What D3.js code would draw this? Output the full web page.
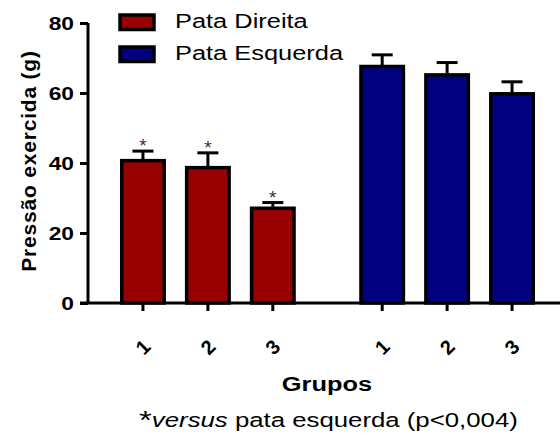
<!DOCTYPE html>
<html>
<head>
<meta charset="utf-8">
<script src="https://cdn.jsdelivr.net/npm/d3@7"></script>
<style>
  html, body { margin: 0; padding: 0; background: #fff; }
  svg { display: block; font-family: Arial, "Liberation Sans", sans-serif; }
</style>
</head>
<body>
<svg id="chart" width="560" height="437"></svg>
<script>
// Grouped bar chart: paw pressure per group, right vs left paw (mean ± SEM)
const sides = ["Pata Direita", "Pata Esquerda"];
const groups = ["1", "2", "3"];
const rightMeans = [41.1, 39.1, 27.5];
const rightSem = [2.3, 3.8, 1.2];
const leftMeans = [68.0, 65.6, 60.2];
const leftSem = [2.9, 3.1, 3.0];
const significant = [true, true, true]; // right paw, * versus left paw
const yTicks = [0, 20, 40, 60, 80];
const sideColors = ["#990000", "#000080"];

const svg = d3.select("#chart");
const axisX = 88, baseY = 303, topY = 23;
const WIDE = 1.27; // horizontal stretch applied to the wide label lettering

const y = d3.scaleLinear().domain([0, 80]).range([baseY, topY]);
const xSide = d3.scaleBand().domain(sides).range([110.5, 544.5])
  .paddingInner(44.5 / 239.5).paddingOuter(0);
const xGroup = d3.scaleBand().domain(groups).range([0, xSide.bandwidth()])
  .paddingInner(0.3).paddingOuter(0.15);

const series = [
  { side: sides[0], means: rightMeans, sem: rightSem, color: sideColors[0], stars: significant },
  { side: sides[1], means: leftMeans, sem: leftSem, color: sideColors[1], stars: [false, false, false] }
];

const rows = series.flatMap(s => groups.map((g, i) => ({
  side: s.side, group: g, mean: s.means[i], sem: s.sem[i], color: s.color, star: s.stars[i]
})));

const cx = d => xSide(d.side) + xGroup(d.group) + xGroup.bandwidth() / 2;

// places a text element at (x, y) with the widened lettering
function wideText(sel, x, yPos, rot) {
  return sel.attr("x", 0).attr("y", 0)
    .attr("transform", `translate(${x},${yPos})` + (rot ? ` rotate(${rot})` : "") + ` scale(${WIDE},1)`);
}

// error bars (drawn first so the bar outline covers the stem base)
const eb = svg.append("g").attr("stroke", "#000").attr("stroke-width", 3);
eb.selectAll("line.stem").data(rows).join("line")
  .attr("x1", cx).attr("x2", cx)
  .attr("y1", d => y(d.mean)).attr("y2", d => y(d.mean + d.sem));
eb.selectAll("line.cap").data(rows).join("line")
  .attr("x1", d => cx(d) - 10.5).attr("x2", d => cx(d) + 10.5)
  .attr("y1", d => y(d.mean + d.sem)).attr("y2", d => y(d.mean + d.sem));

// bars
svg.append("g").selectAll("rect").data(rows).join("rect")
  .attr("x", d => cx(d) - xGroup.bandwidth() / 2 + 1.5)
  .attr("width", xGroup.bandwidth() - 3)
  .attr("y", d => y(d.mean) + 1.5)
  .attr("height", d => baseY - y(d.mean) - 1.5)
  .attr("fill", d => d.color)
  .attr("stroke", "#000").attr("stroke-width", 3.5);

// significance markers
svg.append("g").selectAll("text").data(rows.filter(d => d.star)).join("text")
  .attr("x", cx).attr("y", d => y(d.mean + d.sem) + 1)
  .attr("text-anchor", "middle")
  .attr("font-size", 19).attr("fill", "#333")
  .text("*");

// y axis
const yAxis = svg.append("g").attr("transform", `translate(${axisX},0)`)
  .call(d3.axisLeft(y).tickValues(yTicks).tickSize(8).tickPadding(5));
yAxis.select(".domain").attr("stroke-width", 3).attr("d", `M0,${y(80)}V${baseY}`);
yAxis.selectAll(".tick line").attr("stroke-width", 3);
yAxis.selectAll(".tick text")
  .attr("transform", `translate(-14,0) scale(1.2,1)`).attr("x", 0)
  .attr("font-size", 19).attr("font-weight", "bold")
  .attr("fill", "#000").attr("font-family", "Arial, 'Liberation Sans', sans-serif");

// x axis baseline and ticks
const xAxis = svg.append("g");
xAxis.append("line").attr("x1", axisX - 8).attr("x2", 560)
  .attr("y1", baseY).attr("y2", baseY)
  .attr("stroke", "#000").attr("stroke-width", 3);
xAxis.selectAll("line.tick").data(rows).join("line")
  .attr("x1", cx).attr("x2", cx)
  .attr("y1", baseY).attr("y2", baseY + 8)
  .attr("stroke", "#000").attr("stroke-width", 3);
xAxis.selectAll("text").data(rows).join("text")
  .attr("transform", d => `translate(${cx(d)},${347}) rotate(-45)`)
  .attr("text-anchor", "middle").attr("dy", "0.35em")
  .attr("font-size", 20).attr("font-weight", "bold")
  .text(d => d.group);

// axis titles
svg.append("text")
  .attr("transform", `translate(36,${161}) rotate(-90)`)
  .attr("text-anchor", "middle")
  .attr("font-size", 21).attr("font-weight", "bold")
  .attr("letter-spacing", 0.8)
  .text("Pressão exercida (g)");
wideText(svg.append("text"), 327, 391)
  .attr("text-anchor", "middle")
  .attr("font-size", 20).attr("font-weight", "bold")
  .text("Grupos");

// footnote
const note = wideText(svg.append("text"), 139, 427).attr("font-size", 20.3);
note.append("tspan").attr("font-size", 26).attr("dy", 2).text("*");
note.append("tspan").attr("font-style", "italic").attr("dy", -2).text("versus");
note.append("tspan").text(" pata esquerda (p<0,004)");

// legend
const legend = svg.append("g").selectAll("g").data(series).join("g")
  .attr("transform", (d, i) => `translate(120,${15 + i * 32})`);
legend.append("rect").attr("x", 0).attr("y", 0).attr("width", 34).attr("height", 14.5)
  .attr("fill", d => d.color).attr("stroke", "#000").attr("stroke-width", 3.5);
legend.each(function () {
  wideText(d3.select(this).append("text"), 55, 12.5).attr("font-size", 20);
});
legend.selectAll("text").text(d => d.side);
</script>
</body>
</html>
